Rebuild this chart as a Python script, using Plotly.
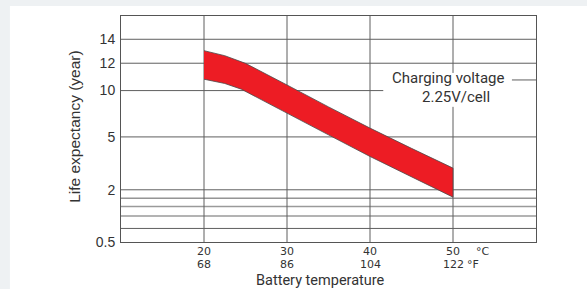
import numpy as np
import plotly.graph_objects as go

# ---- data ----
temp_c_upper = [20, 22.5, 25, 27.5, 30, 35, 40, 45, 50]
life_upper = [13.05, 12.63, 11.99, 11.22, 10.41, 8.24, 5.95, 4.35, 3.23]
temp_c_lower = [20, 22.5, 24.5, 27.5, 30, 35, 40, 45, 50]
life_lower = [10.83, 10.52, 10.1, 8.78, 7.59, 5.22, 3.89, 2.74, 1.78]

x_ticks_c = ["20", "30", "40", "50"]
x_ticks_f = ["68", "86", "104", "122"]
x_tick_vals = [20, 30, 40, 50]

y_tick_vals = [0.5, 2, 5, 10, 12, 14]
y_tick_text = ["0.5", "2", "5", "10", "12", "14"]
y_minor_vals = [1.0, 1.25, 1.5, 1.75]

# non-uniform chart scale (value -> axis position 0..100)
scale_vals = [0.5, 1.0, 1.25, 1.5, 1.75, 2, 5, 10, 12, 14, 16]
scale_pos = [0, 6.0, 11.5, 15.7, 19.4, 23.1, 46.5, 67.0, 79.1, 89.7, 100.3]


def ypos(v):
    return np.interp(np.asarray(v, dtype=float), scale_vals, scale_pos)


GRID = "#5f5f5f"
fig = go.Figure()

band_x = list(temp_c_upper) + list(temp_c_lower[::-1])
band_y = list(ypos(life_upper)) + list(ypos(life_lower[::-1]))
fig.add_trace(go.Scatter(x=band_x, y=band_y, fill="toself", mode="lines",
                         fillcolor="#ED1C24", line=dict(color="#4a4a4a", width=0.8),
                         hoverinfo="skip", showlegend=False))

shapes = []
# background card
shapes.append(dict(type="rect", xref="paper", yref="paper",
                   x0=(10 - 121) / 414.7, x1=2, y0=-1, y1=(242.3 - 6) / 226.3,
                   fillcolor="white", line=dict(width=0), layer="below"))
# horizontal gridlines
for v in y_tick_vals[1:]:
    x1 = 41.6 if v == 10 else 60
    shapes.append(dict(type="line", xref="x", yref="y", x0=10, x1=x1,
                       y0=float(ypos(v)), y1=float(ypos(v)),
                       line=dict(color=GRID, width=1), layer="below"))
for v in y_minor_vals:
    light = v in (1.25, 1.5)
    shapes.append(dict(type="line", xref="x", yref="y", x0=10, x1=60,
                       y0=float(ypos(v)), y1=float(ypos(v)),
                       line=dict(color="#9a9a9a" if light else GRID,
                                 width=1.6 if light else 1), layer="below"))
# vertical gridlines
for xv in x_tick_vals:
    if xv == 50:
        shapes.append(dict(type="line", xref="x", yref="y", x0=xv, x1=xv, y0=0, y1=59.8,
                           line=dict(color=GRID, width=1), layer="below"))
        shapes.append(dict(type="line", xref="x", yref="y", x0=xv, x1=xv, y0=74.8, y1=100,
                           line=dict(color=GRID, width=1), layer="below"))
    else:
        shapes.append(dict(type="line", xref="x", yref="y", x0=xv, x1=xv, y0=0, y1=100,
                           line=dict(color=GRID, width=1), layer="below"))
# leader line
shapes.append(dict(type="line", xref="x", yref="y", x0=57.1, x1=60, y0=71.7, y1=71.7,
                   line=dict(color=GRID, width=1)))

annotations = []
TXT = "#333333"
TF = dict(family="DejaVu Sans", size=11, color=TXT)
ROW1, ROW2 = -0.042, -0.0994
for xv, c, f in zip(x_tick_vals, x_ticks_c, x_ticks_f):
    annotations.append(dict(x=xv, y=ROW1, xref="x", yref="paper", text=c,
                            showarrow=False, xanchor="center", yanchor="middle",
                            borderpad=0, font=TF))
    annotations.append(dict(x=xv, y=ROW2, xref="x", yref="paper", text=f,
                            showarrow=False, xanchor="center", yanchor="middle",
                            borderpad=0, font=TF))
annotations.append(dict(x=52.6, y=ROW1, xref="x", yref="paper", text="°C",
                        showarrow=False, xanchor="left", yanchor="middle",
                        borderpad=0, font=TF))
annotations.append(dict(x=51.6, y=ROW2, xref="x", yref="paper", text="°F",
                        showarrow=False, xanchor="left", yanchor="middle",
                        borderpad=0, font=TF))
annotations.append(dict(x=34.0, y=-0.1684, xref="x", yref="paper", text="Battery temperature",
                        showarrow=False, xanchor="center", yanchor="middle",
                        borderpad=0,
                        font=dict(family="Roboto", size=14.5, color=TXT)))
annotations.append(dict(x=(75 - 121) / 414.7, y=0.514, xref="paper", yref="paper",
                        text="Life expectancy (year)", textangle=-90,
                        showarrow=False, xanchor="center", yanchor="middle",
                        font=dict(family="Liberation Sans", size=15.5, color=TXT)))
annotations.append(dict(x=49.43, y=72.4, xref="x", yref="y", text="Charging voltage",
                        showarrow=False, xanchor="center", yanchor="middle",
                        font=dict(family="Roboto", size=15, color=TXT)))
annotations.append(dict(x=50.33, y=64.3, xref="x", yref="y", text="2.25V/cell",
                        showarrow=False, xanchor="center", yanchor="middle",
                        font=dict(family="Roboto", size=15, color=TXT)))

fig.update_layout(
    width=587, height=289,
    margin=dict(l=121, r=51, t=16, b=47),
    paper_bgcolor="#eef1f3",
    plot_bgcolor="#f2f2f2",
    showlegend=False,
    shapes=shapes,
    annotations=annotations,
    xaxis=dict(range=[10, 60], showgrid=False, zeroline=False, showticklabels=False,
               ticks="", showline=True, mirror=True, linecolor="#555555", linewidth=1),
    yaxis=dict(range=[0, 100], showgrid=False, zeroline=False,
               tickvals=list(ypos(y_tick_vals)), ticktext=y_tick_text,
               ticks="", ticklabelstandoff=2,
               tickfont=dict(family="Liberation Sans", size=14, color=TXT),
               showline=True, mirror=True, linecolor="#555555", linewidth=1),
)

fig.write_html("out.html", config={"displayModeBar": False},
               post_script="document.body.style.margin='0';document.body.style.padding='0';")
